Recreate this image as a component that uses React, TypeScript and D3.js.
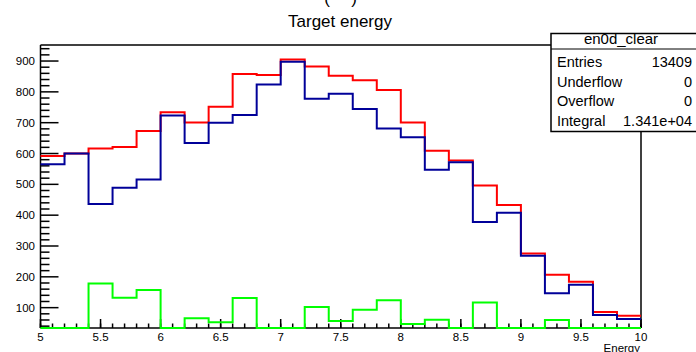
import React from "react";
import * as d3 from "d3";

const binEdgesStart = 5;
const binWidth = 0.2;
const redValues = [592, 600, 616, 621, 673, 734, 701, 752, 858, 855, 905, 882, 852, 838, 806, 701, 609, 577, 496, 433, 276, 207, 184, 86, 74];
const blueValues = [565, 600, 436, 489, 516, 723, 634, 700, 725, 824, 898, 778, 794, 744, 681, 653, 547, 572, 378, 408, 268, 147, 174, 76, 63];
const greenValues = [27, 0, 178, 132, 157, 11, 66, 53, 131, 31, 7, 102, 57, 93, 124, 47, 61, 5, 117, 25, 8, 60, 10, 10, 11];
const yTickLabels = [100, 200, 300, 400, 500, 600, 700, 800, 900];
const xTickLabels = [5, 5.5, 6, 6.5, 7, 7.5, 8, 8.5, 9, 9.5, 10];
const statsTitle = "en0d_clear";
const statsLabels = ["Entries", "Underflow", "Overflow", "Integral"];
const statsValues = ["13409", "0", "0", "1.341e+04"];

const W = 696, H = 352;
const FL = 40.5, FR = 641, FT = 45, FB = 328;
const FONT = "'Liberation Sans', Arial, Helvetica, sans-serif";

export default function App() {
  const x = d3.scaleLinear().domain([5, 10]).range([FL, FR]);
  const y = d3.scaleLinear().domain([34, 952]).range([FB, FT]);

  const stepPath = (vals: number[]) => {
    const yc = (v: number) => y(Math.max(34, Math.min(952, v)));
    const pts: [number, number][] = [];
    vals.forEach((v, i) => {
      const x0 = x(binEdgesStart + i * binWidth);
      const x1 = x(binEdgesStart + (i + 1) * binWidth);
      pts.push([x0, yc(v)]);
      pts.push([x1, yc(v)]);
    });
    return d3.line()(pts) as string;
  };

  const majorY = yTickLabels;
  const minorY = d3.range(40, 952, 20).filter((v) => v % 100 !== 0);
  const majorX = xTickLabels;
  const minorX = d3.range(5, 10.0001, 0.1).map((v) => Math.round(v * 10) / 10);

  const boxL = 551, boxR = 698, boxT = 33.5, boxSep = 49, boxB = 131.5;
  const rowCenters = [62, 81.5, 101, 121];

  return (
    <svg width={W} height={H} style={{ position: "absolute", left: 0, top: 0, background: "#fff" }} fontFamily={FONT}>
      <rect x={0} y={0} width={W} height={H} fill="#fff" />
      <text x={327} y={4} fontSize={17} textAnchor="middle">(</text>
      <text x={354} y={4} fontSize={17} textAnchor="middle">)</text>
      <text x={340} y={27} fontSize={17} textAnchor="middle">Target energy</text>
      <defs>
        <clipPath id="frameClip">
          <rect x={FL - 1} y={FT} width={FR - FL + 2} height={FB - FT + 1.5} />
        </clipPath>
      </defs>
      {/* frame */}
      <line x1={FL} x2={FR} y1={FT} y2={FT} stroke="#000" strokeWidth={1.5} />
      <line x1={FR} x2={FR} y1={FT} y2={FB} stroke="#000" strokeWidth={1.5} />
      <line x1={FL} x2={FL} y1={FT} y2={FB} stroke="#000" strokeWidth={1.5} />
      <line x1={FL} x2={FR} y1={FB} y2={FB} stroke="#000" strokeWidth={1.5} />
      {/* y ticks */}
      {majorY.map((v) => (
        <g key={"my" + v}>
          <line x1={FL} x2={FL + 18} y1={y(v)} y2={y(v)} stroke="#000" strokeWidth={1.5} />
          <text x={35} y={y(v) + 4} fontSize={11.5} textAnchor="end">{v}</text>
        </g>
      ))}
      {minorY.map((v) => (
        <line key={"ny" + v} x1={FL} x2={FL + 9} y1={y(v)} y2={y(v)} stroke="#000" strokeWidth={1.5} />
      ))}
      {/* x ticks */}
      {minorX.map((v) => (
        <line key={"nx" + v} x1={x(v)} x2={x(v)} y1={FB} y2={FB - 4.5} stroke="#000" strokeWidth={1.5} />
      ))}
      {majorX.map((v) => (
        <g key={"mx" + v}>
          <line x1={x(v)} x2={x(v)} y1={FB} y2={FB - 9} stroke="#000" strokeWidth={1.5} />
          <text x={x(v)} y={341} fontSize={11.5} textAnchor="middle">{v}</text>
        </g>
      ))}
      <text x={640} y={352} fontSize={11.5} textAnchor="end">Energy</text>
      {/* histograms */}
      <g clipPath="url(#frameClip)" fill="none" strokeWidth={2}>
        <path d={stepPath(redValues)} stroke="#ff0000" />
        <path d={stepPath(blueValues)} stroke="#000099" />
        <path d={stepPath(greenValues)} stroke="#00ff00" />
      </g>
      {/* stats box */}
      <rect x={boxL} y={boxT} width={boxR - boxL} height={boxB - boxT} fill="#fff" stroke="#000" strokeWidth={1.5} />
      <line x1={boxL} x2={boxR} y1={boxSep} y2={boxSep} stroke="#000" strokeWidth={1} />
      <text x={621} y={44} fontSize={15} textAnchor="middle">{statsTitle}</text>
      {statsLabels.map((l, i) => (
        <g key={l}>
          <text x={557} y={rowCenters[i] + 5} fontSize={14.5}>{l}</text>
          <text x={692} y={rowCenters[i] + 5} fontSize={14.5} textAnchor="end">{statsValues[i]}</text>
        </g>
      ))}
    </svg>
  );
}
